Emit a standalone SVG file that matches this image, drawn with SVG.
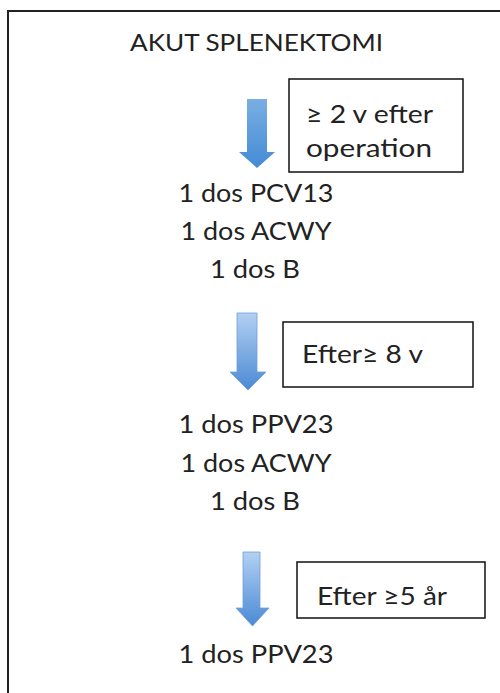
<svg xmlns="http://www.w3.org/2000/svg" width="500" height="693" viewBox="0 0 500 693">
  <defs>
    <linearGradient id="g1" x1="0" y1="0" x2="0" y2="1">
      <stop offset="0" stop-color="#7aaee3"/>
      <stop offset="1" stop-color="#438bd6"/>
    </linearGradient>
    <linearGradient id="g2" x1="0" y1="0" x2="0" y2="1">
      <stop offset="0" stop-color="#b3d0f3"/>
      <stop offset="1" stop-color="#4a8ad4"/>
    </linearGradient>
    <style>
      .t { font-family: Lato, "Liberation Sans", sans-serif; font-size: 25px; fill: #222; }
      .h { font-family: Lato, "Liberation Sans", sans-serif; font-size: 23px; fill: #222; }
      .box { fill: #fff; stroke: #111; stroke-width: 1.5; }
      .frame { fill: none; stroke: #222; stroke-width: 2; }
      .a1 { fill: url(#g1); }
      .a2 { fill: url(#g2); stroke: #6f9fd8; stroke-width: 0.8; }
    </style>
  </defs>
  <rect width="500" height="693" fill="#fff"/>
  <path class="frame" d="M 8 693 V 11 H 500"/>

  <g id="title">
    <text class="h" x="256.5" y="51" text-anchor="middle" textLength="253" lengthAdjust="spacingAndGlyphs">AKUT SPLENEKTOMI</text>
  </g>

  <g id="connectors">
    <path class="a1" d="M247 99 H267 V152 H275 L257 168 L239 152 H247 Z"/>
    <path class="a2" d="M237 313 H257 V372 H266 L248 390 L230 372 H237 Z"/>
    <path class="a2" d="M243 552 H260 V608 H269 L252.5 626 L236 608 H243 Z"/>
  </g>

  <g id="label1">
    <rect class="box" x="289" y="79" width="174" height="93"/>
    <text class="t" x="306" y="123" textLength="127" lengthAdjust="spacingAndGlyphs">≥ 2 v efter</text>
    <text class="t" x="306" y="157" textLength="126" lengthAdjust="spacingAndGlyphs">operation</text>
  </g>

  <g id="dose1">
    <text class="t" x="256" y="202" text-anchor="middle" textLength="155" lengthAdjust="spacingAndGlyphs">1 dos PCV13</text>
    <text class="t" x="256" y="240" text-anchor="middle" textLength="151" lengthAdjust="spacingAndGlyphs">1 dos ACWY</text>
    <text class="t" x="255" y="278" text-anchor="middle" textLength="90" lengthAdjust="spacingAndGlyphs">1 dos B</text>
  </g>

  <g id="label2">
    <rect class="box" x="283" y="322" width="190" height="65"/>
    <text class="t" x="302" y="363" textLength="121" lengthAdjust="spacingAndGlyphs">Efter≥ 8 v</text>
  </g>

  <g id="dose2">
    <text class="t" x="256" y="433" text-anchor="middle" textLength="155" lengthAdjust="spacingAndGlyphs">1 dos PPV23</text>
    <text class="t" x="256" y="472" text-anchor="middle" textLength="151" lengthAdjust="spacingAndGlyphs">1 dos ACWY</text>
    <text class="t" x="255" y="510" text-anchor="middle" textLength="90" lengthAdjust="spacingAndGlyphs">1 dos B</text>
  </g>

  <g id="label3">
    <rect class="box" x="297" y="562" width="188" height="56"/>
    <text class="t" x="317" y="605" textLength="130" lengthAdjust="spacingAndGlyphs">Efter ≥5 år</text>
  </g>

  <g id="dose3">
    <text class="t" x="256" y="663" text-anchor="middle" textLength="155" lengthAdjust="spacingAndGlyphs">1 dos PPV23</text>
  </g>
</svg>
